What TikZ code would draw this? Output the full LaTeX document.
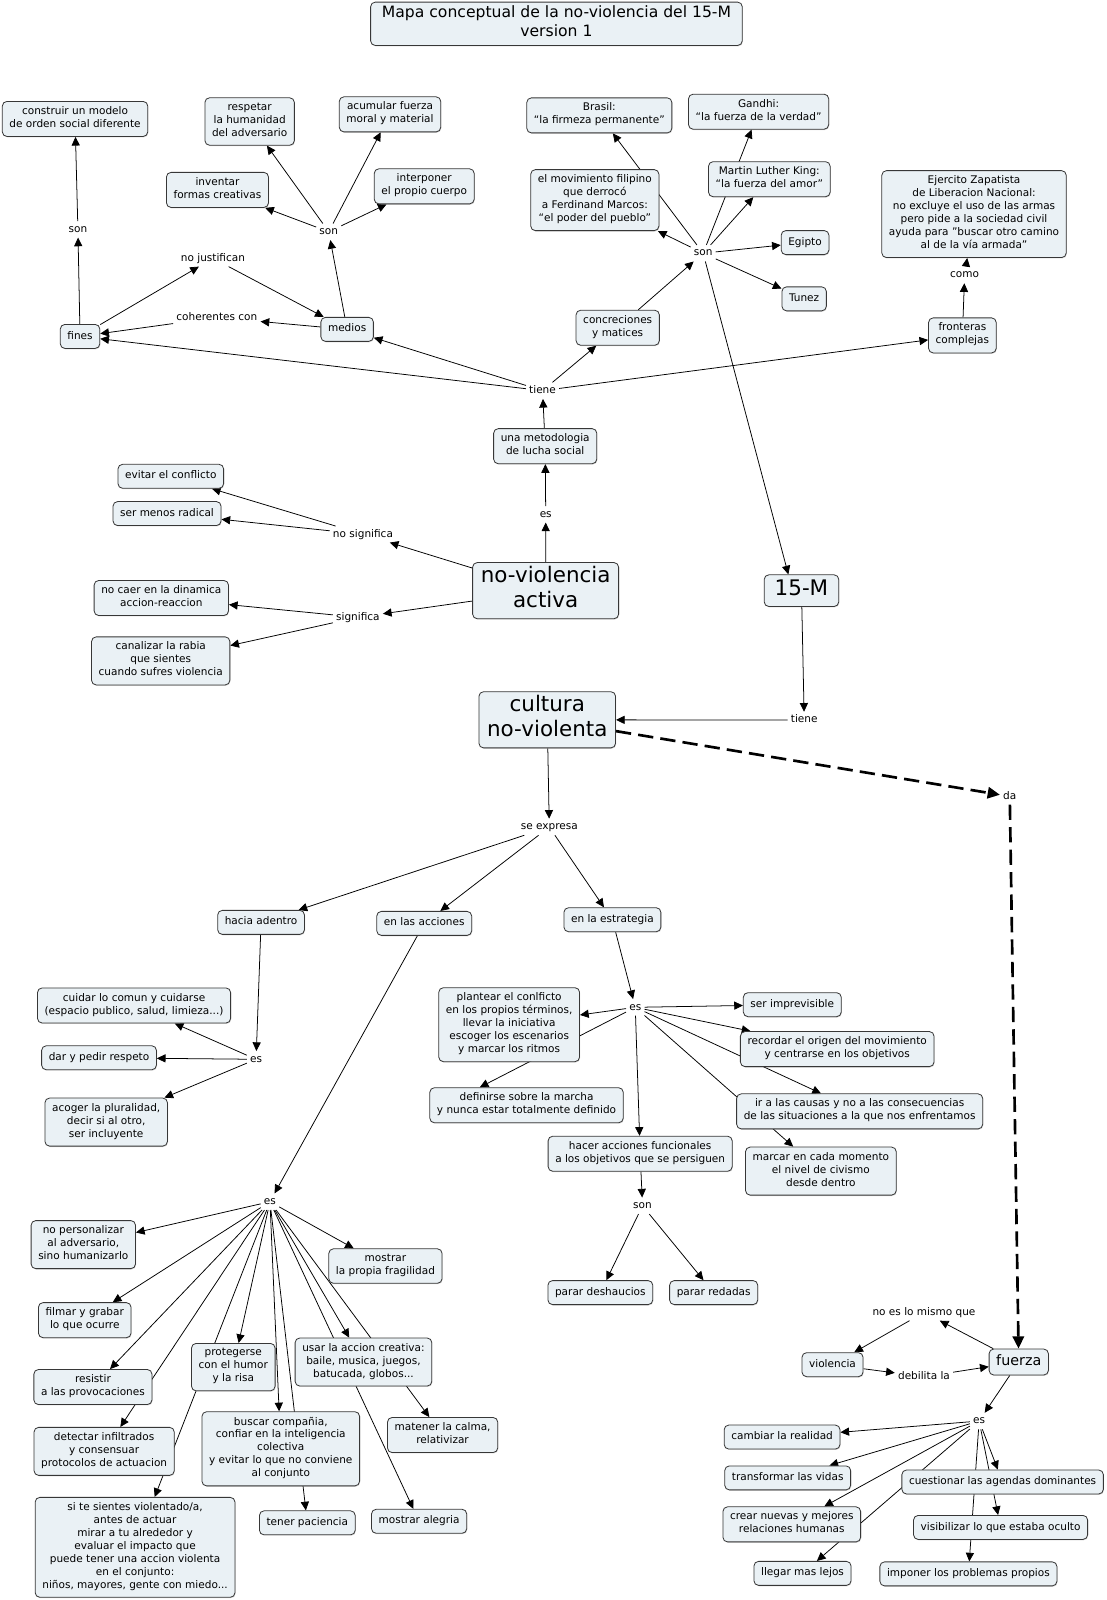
\documentclass[tikz,border=0pt]{standalone}
\usepackage{fontspec}
\setmainfont{DejaVu Sans}
\usetikzlibrary{arrows.meta}
\usetikzlibrary{shadows}
\definecolor{cfill}{RGB}{234,241,245}
\definecolor{cline}{RGB}{55,55,55}
\pgfdeclarelayer{bg}
\pgfsetlayers{bg,main}
\tikzset{
  cbox/.style={draw=cline, fill=cfill, rounded corners=4.5pt, line width=0.8pt, align=center,
    inner xsep=7pt, inner ysep=5pt, minimum height=23.5pt, font=\fontsize{10.3}{12.7}\selectfont,
    execute at begin node=\strut,
    drop shadow={shadow xshift=0.6pt, shadow yshift=-0.9pt, opacity=0.3}},
  bigbox/.style={cbox, inner xsep=8pt, inner ysep=3pt, minimum height=55pt, font=\fontsize{21}{25}\selectfont},
  phrase/.style={inner sep=3pt, font=\fontsize{10.3}{12}\selectfont, text height=7.6pt, text depth=2.2pt},
  arr/.style={-{Triangle[length=8.5pt,width=8pt]}, line width=0.75pt},
  darr/.style={-{Triangle[length=12pt,width=11pt]}, line width=2.6pt, dash pattern=on 15pt off 7pt},
}

\begin{document}
\begin{tikzpicture}[x=1pt,y=-1pt]
\useasboundingbox (0,0) rectangle (1084.2,1567.1);

% titulo
\node[cbox, font=\fontsize{15.3}{18}\selectfont, minimum width=364pt, inner ysep=3.7pt] (titulo) at (545,23.3) {Mapa conceptual de la no-violencia del 15-M\\version 1};

% fines y medios
\node[cbox] (modelo) at (73.5,116.5) {construir un modelo\\de orden social diferente};
\node[phrase] (son1) at (76.3,224.6) {son};
\node[cbox] (fines) at (78.4,329.5) {fines};
\node[phrase] (nojust) at (208.6,253) {no justifican};
\node[phrase] (coher) at (212.4,311) {coherentes con};
\node[cbox] (medios) at (340,322.6) {medios};
\node[phrase] (son2) at (322,227) {son};
\node[cbox] (respetar) at (244.5,119) {respetar\\la humanidad\\del adversario};
\node[cbox] (acumular) at (382,112) {acumular fuerza\\moral y material};
\node[cbox] (inventar) at (213,186) {inventar\\formas creativas};
\node[cbox] (interponer) at (415.5,182.5) {interponer\\el propio cuerpo};

% concreciones
\node[cbox] (brasil) at (587,113) {Brasil:\\“la firmeza permanente”};
\node[cbox] (gandhi) at (743,109.4) {Gandhi:\\“la fuerza de la verdad”};
\node[cbox] (filipino) at (582.6,196) {el movimiento filipino\\que derrocó\\a Ferdinand Marcos:\\“el poder del pueblo”};
\node[cbox] (mlk) at (753.5,175.5) {Martin Luther King:\\“la fuerza del amor”};
\node[phrase] (sonr) at (688.7,248) {son};
\node[cbox] (egipto) at (788.5,237.6) {Egipto};
\node[cbox] (tunez) at (787.6,292.7) {Tunez};
\node[cbox] (concre) at (605,321) {concreciones\\y matices};
\node[cbox] (zapat) at (954,209.7) {Ejercito Zapatista\\de Liberacion Nacional:\\no excluye el uso de las armas\\pero pide a la sociedad civil\\ayuda para "buscar otro camino\\al de la vía armada"};
\node[phrase] (como) at (944.8,269.3) {como};
\node[cbox] (fronteras) at (942.6,328.5) {fronteras\\complejas};
\node[phrase] (tiene) at (531.4,382.6) {tiene};
\node[cbox] (metod) at (534,437) {una metodologia\\de lucha social};
\node[phrase] (es1) at (534.5,503.7) {es};

% no-violencia activa
\node[bigbox] (nva) at (534.4,578.5) {no-violencia\\activa};
\node[phrase] (nosig) at (355.5,523.3) {no significa};
\node[cbox] (evitar) at (167.3,466.5) {evitar el conflicto};
\node[cbox] (menos) at (163.6,503) {ser menos radical};
\node[phrase] (sig) at (350.5,604.6) {significa};
\node[cbox] (nocaer) at (158,585.7) {no caer en la dinamica\\accion-reaccion};
\node[cbox] (canal) at (157.4,647.3) {canalizar la rabia\\que sientes\\cuando sufres violencia};
\node[bigbox, minimum width=73pt, minimum height=31pt] (fm) at (785,578.5) {15-M};
\node[phrase] (tiene2) at (787.7,705.2) {tiene};
\node[bigbox] (cultura) at (536,705) {cultura\\no-violenta};
\node[phrase] (da) at (989,780) {da};
\node[phrase] (expresa) at (538,810) {se expresa};

% se expresa
\node[cbox] (hacia) at (255.7,903.4) {hacia adentro};
\node[cbox] (acciones) at (415.5,904.4) {en las acciones};
\node[cbox] (estrat) at (599.8,900.8) {en la estrategia};
\node[phrase] (esh) at (250.8,1037.5) {es};
\node[cbox] (cuidar) at (131.3,984.8) {cuidar lo comun y cuidarse\\(espacio publico, salud, limieza...)};
\node[cbox] (dar) at (97,1036) {dar y pedir respeto};
\node[cbox] (acoger) at (104,1099) {acoger la pluralidad,\\decir si al otro,\\ser incluyente};
\node[phrase] (ess) at (622.2,986.6) {es};
\node[cbox] (plantear) at (498.7,1003.6) {plantear el conlficto\\en los propios términos,\\llevar la iniciativa\\escoger los escenarios\\y marcar los ritmos};
\node[cbox] (defin) at (515.7,1082.5) {definirse sobre la marcha\\y nunca estar totalmente definido};
\node[cbox] (imprev) at (776,984) {ser imprevisible};
\node[cbox] (recordar) at (820,1027.5) {recordar el origen del movimiento\\y centrarse en los objetivos};
\node[cbox] (causas) at (842,1088.5) {ir a las causas y no a las consecuencias\\de las situaciones a la que nos enfrentamos};
\node[cbox] (civismo) at (804,1147) {marcar en cada momento\\el nivel de civismo\\desde dentro};
\node[cbox] (hacer) at (627,1130) {hacer acciones funcionales\\a los objetivos que se persiguen};
\node[phrase] (sonh) at (629.3,1181) {son};
\node[cbox] (deshau) at (588,1266) {parar deshaucios};
\node[cbox] (redadas) at (699,1266) {parar redadas};

% en las acciones
\node[phrase] (esa) at (264.4,1177) {es};
\node[cbox] (nopers) at (81.6,1219) {no personalizar\\al adversario,\\sino humanizarlo};
\node[cbox] (fragil) at (377.5,1240) {mostrar\\la propia fragilidad};
\node[cbox] (filmar) at (83,1293) {filmar y grabar\\lo que ocurre};
\node[cbox] (proteg) at (228.5,1339) {protegerse\\con el humor\\y la risa};
\node[cbox] (creativa) at (356,1334) {usar la accion creativa:\\baile, musica, juegos,\\batucada, globos...};
\node[cbox] (resistir) at (91,1358.5) {resistir\\a las provocaciones};
\node[cbox] (calma) at (433.5,1405.5) {matener la calma,\\relativizar};
\node[cbox] (buscar) at (275,1419) {buscar compañia,\\confiar en la inteligencia\\colectiva\\y evitar lo que no conviene\\al conjunto};
\node[cbox] (detectar) at (102,1421.5) {detectar infiltrados\\y consensuar\\protocolos de actuacion};
\node[cbox] (sientes) at (132.3,1515.5) {si te sientes violentado/a,\\antes de actuar\\mirar a tu alrededor y\\evaluar el impacto que\\puede tener una accion violenta\\en el conjunto:\\niños, mayores, gente con miedo...};
\node[cbox] (paciencia) at (301,1491.5) {tener paciencia};
\node[cbox] (alegria) at (410.5,1490) {mostrar alegria};

% fuerza
\node[phrase] (noes) at (905,1285.4) {no es lo mismo que};
\node[cbox] (violencia) at (815.4,1336.6) {violencia};
\node[phrase] (debilita) at (905,1348.4) {debilita la};
\node[cbox, font=\fontsize{14}{17}\selectfont, inner ysep=4.2pt] (fuerza) at (997.8,1334) {fuerza};
\node[phrase] (esf) at (959,1391.8) {es};
\node[cbox] (cambiar) at (766,1407.5) {cambiar la realidad};
\node[cbox] (transf) at (771.5,1447.5) {transformar las vidas};
\node[cbox] (cuestion) at (982,1451.5) {cuestionar las agendas dominantes};
\node[cbox] (crear) at (775.5,1493) {crear nuevas y mejores\\relaciones humanas};
\node[cbox] (visib) at (980,1496) {visibilizar lo que estaba oculto};
\node[cbox] (lejos) at (786,1541) {llegar mas lejos};
\node[cbox] (imponer) at (948.5,1541.5) {imponer los problemas propios};

\begin{pgfonlayer}{bg}
\draw[arr] (fines) -- (son1);
\draw[arr] (son1) -- (modelo);
\draw[arr] (fines) -- (nojust);
\draw[arr] (nojust) -- (medios);
\draw[arr] (medios) -- (coher);
\draw[arr] (coher) -- (fines);
\draw[arr] (medios) -- (son2);
\foreach \t in {respetar,acumular,inventar,interponer} \draw[arr] (son2) -- (\t);
\foreach \t in {fines,medios,concre,fronteras} \draw[arr] (tiene) -- (\t);
\draw[arr] (metod) -- (tiene);
\draw[arr] (nva) -- (es1);
\draw[arr] (es1) -- (metod);
\draw[arr] (concre) -- (sonr);
\foreach \t in {brasil,filipino,gandhi,mlk,egipto,tunez} \draw[arr] (sonr) -- (\t);
\draw[arr] (sonr) -- (fm.129);
\draw[arr] (fronteras) -- (como);
\draw[arr] (como) -- (zapat);
\draw[arr] (nva) -- (nosig);
\draw[arr] (nosig) -- (evitar);
\draw[arr] (nosig) -- (menos);
\draw[arr] (nva) -- (sig);
\draw[arr] (sig) -- (nocaer);
\draw[arr] (sig) -- (canal);
\draw[arr] (fm) -- (tiene2);
\draw[arr] (tiene2) -- (cultura);
\draw[darr] (cultura) -- (da);
\draw[darr] (da) -- (fuerza);
\draw[arr] (cultura) -- (expresa);
\foreach \t in {hacia,acciones,estrat} \draw[arr] (expresa) -- (\t);
\draw[arr] (hacia) -- (esh);
\foreach \t in {cuidar,dar,acoger} \draw[arr] (esh) -- (\t);
\draw[arr] (estrat) -- (ess);
\foreach \t in {plantear,imprev,recordar,causas,civismo,hacer} \draw[arr] (ess) -- (\t);
\draw[arr] (ess) -- (defin.159);
\draw[arr] (hacer) -- (sonh);
\draw[arr] (sonh) -- (deshau);
\draw[arr] (sonh) -- (redadas);
\draw[arr] (acciones) -- (esa);
\foreach \t in {nopers,fragil,filmar,proteg,creativa,resistir,calma,buscar,detectar,sientes,paciencia,alegria} \draw[arr] (esa) -- (\t);
\draw[arr] (fuerza) -- (noes);
\draw[arr] (noes) -- (violencia);
\draw[arr] (violencia) -- (debilita);
\draw[arr] (debilita) -- (fuerza);
\draw[arr] (fuerza) -- (esf);
\foreach \t in {cambiar,transf,cuestion,crear,visib,lejos,imponer} \draw[arr] (esf) -- (\t);
\end{pgfonlayer}
\end{tikzpicture}
\end{document}
